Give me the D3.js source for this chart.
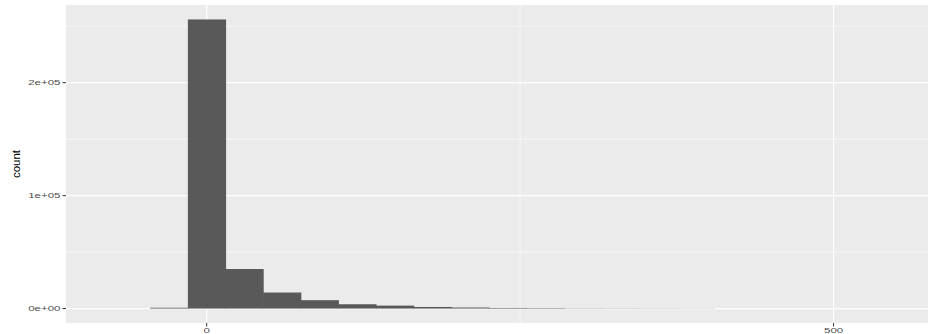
<!DOCTYPE html>
<html>
<head>
<meta charset="utf-8">
<script src="https://cdn.jsdelivr.net/npm/d3@7"></script>
<style>
  html, body { margin: 0; padding: 0; background: #fff; }
  svg { display: block; font-family: "Liberation Sans", Arial, sans-serif; }
</style>
</head>
<body>
<svg id="chart" width="928" height="334"></svg>
<script>
// Histogram bins (binwidth 30, centred on multiples of 30)
const binCenters = [-30, 0, 30, 60, 90, 120, 150, 180, 210, 240, 270, 300, 330, 360, 390];
const binCounts  = [700, 256000, 35000, 14200, 7400, 3800, 2600, 1400, 900, 500, 400, 200, 180, 150, 120];
const binWidth = 30;

const xTicks = [0, 500];
const xMinor = [250];
const yTicks = [0, 100000, 200000];
const yTickLabels = ["0e+00", "1e+05", "2e+05"];
const yMinor = [50000, 150000, 250000];
const yTitle = "count";

const svg = d3.select("#chart");
const panel = { left: 66, right: 928, top: 5, bottom: 323 };

const x = d3.scaleLinear().domain([-112.2, 575.3]).range([panel.left, panel.right]);
const y = d3.scaleLinear().domain([-12800, 268800]).range([panel.bottom, panel.top]);

// panel background
svg.append("rect")
  .attr("x", panel.left).attr("y", panel.top)
  .attr("width", panel.right - panel.left).attr("height", panel.bottom - panel.top)
  .attr("fill", "#EBEBEB");

// minor grid
svg.append("g").selectAll("line").data(yMinor).join("line")
  .attr("x1", panel.left).attr("x2", panel.right)
  .attr("y1", d => y(d)).attr("y2", d => y(d))
  .attr("stroke", "#fff").attr("stroke-width", 0.6);
svg.append("g").selectAll("line").data(xMinor).join("line")
  .attr("y1", panel.top).attr("y2", panel.bottom)
  .attr("x1", d => x(d)).attr("x2", d => x(d))
  .attr("stroke", "#fff").attr("stroke-width", 0.6);

// major grid
svg.append("g").selectAll("line").data(yTicks).join("line")
  .attr("x1", panel.left).attr("x2", panel.right)
  .attr("y1", d => y(d)).attr("y2", d => y(d))
  .attr("stroke", "#fff").attr("stroke-width", 1.2);
svg.append("g").selectAll("line").data(xTicks).join("line")
  .attr("y1", panel.top).attr("y2", panel.bottom)
  .attr("x1", d => x(d)).attr("x2", d => x(d))
  .attr("stroke", "#fff").attr("stroke-width", 1.2);

// bars (tiny overlap so adjacent bars have no antialiasing seam)
const bins = binCenters.map((c, i) => ({ c, n: binCounts[i] }));
svg.append("g").selectAll("rect").data(bins).join("rect")
  .attr("x", d => x(d.c - binWidth / 2))
  .attr("width", d => x(d.c + binWidth / 2) - x(d.c - binWidth / 2) + 0.6)
  .attr("y", d => y(d.n))
  .attr("height", d => y(0) - y(d.n))
  .attr("fill", "#595959");

// y axis ticks + labels
const yAxis = svg.append("g");
yAxis.selectAll("line").data(yTicks).join("line")
  .attr("x1", panel.left - 3.5).attr("x2", panel.left)
  .attr("y1", d => y(d)).attr("y2", d => y(d))
  .attr("stroke", "#333").attr("stroke-width", 1);
yAxis.selectAll("text").data(yTicks).join("text")
  .attr("transform", d => `translate(${panel.left - 5.5},${y(d)}) scale(1,0.68)`)
  .attr("text-anchor", "end")
  .attr("dominant-baseline", "central")
  .attr("font-size", 11.5)
  .attr("fill", "#4D4D4D")
  .text((d, i) => yTickLabels[i]);

// x axis ticks + labels
const xAxis = svg.append("g");
xAxis.selectAll("line").data(xTicks).join("line")
  .attr("x1", d => x(d)).attr("x2", d => x(d))
  .attr("y1", panel.bottom).attr("y2", panel.bottom + 3.5)
  .attr("stroke", "#333").attr("stroke-width", 1);
xAxis.selectAll("text").data(xTicks).join("text")
  .attr("transform", d => `translate(${x(d)},${panel.bottom + 4.5}) scale(1,0.68)`)
  .attr("text-anchor", "middle")
  .attr("dominant-baseline", "hanging")
  .attr("font-size", 11.5)
  .attr("fill", "#4D4D4D")
  .text(d => d3.format("d")(d));

// y axis title
svg.append("text")
  .attr("transform", `translate(16,${(panel.top + panel.bottom) / 2}) rotate(-90)`)
  .attr("text-anchor", "middle")
  .attr("dominant-baseline", "central")
  .attr("font-size", 11.5)
  .attr("fill", "#000")
  .text(yTitle);
</script>
</body>
</html>
